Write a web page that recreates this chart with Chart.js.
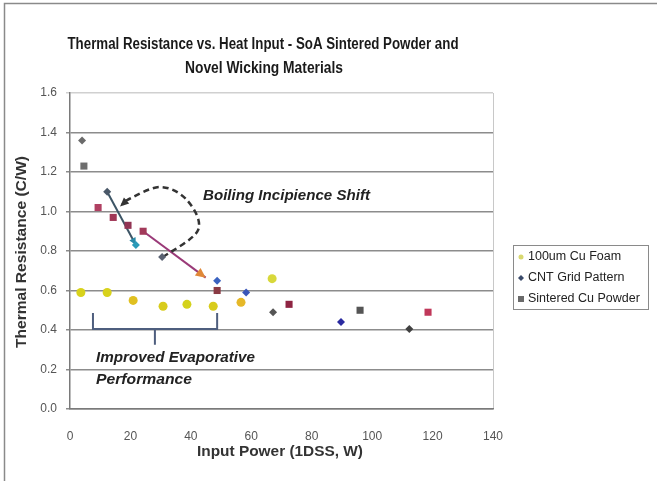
<!DOCTYPE html>
<html><head><meta charset="utf-8">
<script src="https://cdn.jsdelivr.net/npm/chart.js@4"></script>
<style>html,body{margin:0;padding:0;background:#fff;}canvas{display:block;}</style>
</head><body>
<canvas id="c" width="657" height="481"></canvas>
<script>
// ---- data ----
const foamX = [3.6, 12.3, 20.9, 30.8, 38.7, 47.4, 56.6, 66.9];
const foamY = [0.59, 0.59, 0.55, 0.52, 0.53, 0.52, 0.54, 0.66];
const cntX = [4.0, 12.3, 21.8, 30.5, 48.7, 58.3, 67.2, 89.7, 112.3];
const cntY = [1.36, 1.10, 0.83, 0.77, 0.65, 0.59, 0.49, 0.44, 0.405];
const sinterX = [4.6, 9.3, 14.3, 19.2, 24.2, 48.7, 72.5, 96.0, 118.5];
const sinterY = [1.23, 1.02, 0.97, 0.93, 0.90, 0.60, 0.53, 0.50, 0.49];
const seriesNames = ['100um Cu Foam', 'CNT Grid Pattern', 'Sintered Cu Powder'];
const xTicks = [0, 20, 40, 60, 80, 100, 120, 140];
const yTicks = [0.0, 0.2, 0.4, 0.6, 0.8, 1.0, 1.2, 1.4, 1.6];
const titleLines = ['Thermal Resistance vs. Heat Input - SoA Sintered Powder and', 'Novel Wicking Materials'];
const xTitle = 'Input Power (1DSS, W)';
const yTitle = 'Thermal Resistance (C/W)';
const note1 = 'Boiling Incipience Shift';
const note2 = ['Improved Evaporative', 'Performance'];

// styles
const foamColors = ['#d8d21c','#d8d21c','#e0c020','#d8cc1c','#d4d21c','#d8cc1c','#e6b828','#d8d83a'];
const cntColors = ['#6a6a6a','#4a5868','#2a9ab8','#5a6272','#3a62c0','#3a56b8','#555555','#2a2aa0','#404040'];
const sinterColors = ['#6e6e6e','#b04062','#a03656','#923454','#a23a5a','#8a3a44','#8e2442','#555555','#c0385a'];

const toPts = (xs, ys) => xs.map((x, i) => ({x, y: ys[i]}));

const deco = {
  id: 'deco',
  beforeDraw(chart) {
    const ctx = chart.ctx;
    ctx.save();
    ctx.fillStyle = '#fff';
    ctx.fillRect(0, 0, chart.width, chart.height);
    ctx.strokeStyle = '#8a8a8a';
    ctx.lineWidth = 1.5;
    ctx.beginPath();
    ctx.moveTo(4.5, 481); ctx.lineTo(4.5, 3.5); ctx.lineTo(657, 3.5);
    ctx.stroke();
    const a = chart.chartArea;
    ctx.strokeStyle = '#c8c8c8';
    ctx.lineWidth = 1;
    ctx.beginPath();
    ctx.moveTo(a.right + 0.5, a.top); ctx.lineTo(a.right + 0.5, a.bottom);
    ctx.stroke();
    ctx.restore();
  },
  beforeDatasetsDraw(chart) {
    const ctx = chart.ctx, xs = chart.scales.x, ys = chart.scales.y;
    const P = (x, y) => [xs.getPixelForValue(x), ys.getPixelForValue(y)];
    ctx.save();
    const arrow = (p1, p2, col, headCol, hs) => {
      ctx.strokeStyle = col; ctx.lineWidth = 2;
      ctx.beginPath(); ctx.moveTo(p1[0], p1[1]); ctx.lineTo(p2[0], p2[1]); ctx.stroke();
      const ang = Math.atan2(p2[1] - p1[1], p2[0] - p1[0]);
      ctx.fillStyle = headCol;
      ctx.beginPath();
      ctx.moveTo(p2[0], p2[1]);
      ctx.lineTo(p2[0] - hs * Math.cos(ang - 0.45), p2[1] - hs * Math.sin(ang - 0.45));
      ctx.lineTo(p2[0] - hs * Math.cos(ang + 0.45), p2[1] - hs * Math.sin(ang + 0.45));
      ctx.closePath(); ctx.fill();
    };
    arrow(P(12.3, 1.10), P(21.8, 0.83), '#3d5566', '#2a8aa8', 8);
    arrow(P(24.2, 0.90), P(44.9, 0.665), '#9a3a78', '#e08838', 11);

    const pts = [P(30.8, 0.770), P(42.4, 0.906), P(38.7, 1.058), P(29.8, 1.124), P(18.9, 1.058), P(17.3, 1.036)];
    ctx.strokeStyle = '#333'; ctx.lineWidth = 2.5; ctx.setLineDash([6, 4]);
    ctx.beginPath(); ctx.moveTo(pts[0][0], pts[0][1]);
    for (let i = 0; i < pts.length - 1; i++) {
      const p0 = pts[Math.max(0, i - 1)], p1 = pts[i], p2 = pts[i + 1], p3 = pts[Math.min(pts.length - 1, i + 2)];
      ctx.bezierCurveTo(p1[0] + (p2[0] - p0[0]) / 6, p1[1] + (p2[1] - p0[1]) / 6,
                        p2[0] - (p3[0] - p1[0]) / 6, p2[1] - (p3[1] - p1[1]) / 6, p2[0], p2[1]);
    }
    ctx.stroke(); ctx.setLineDash([]);
    const e = pts[pts.length - 1], b = pts[pts.length - 2];
    const ang = Math.atan2(e[1] - b[1], e[0] - b[0]);
    ctx.fillStyle = '#333';
    ctx.beginPath();
    ctx.moveTo(e[0] + 3 * Math.cos(ang), e[1] + 3 * Math.sin(ang));
    ctx.lineTo(e[0] - 7 * Math.cos(ang - 0.6), e[1] - 7 * Math.sin(ang - 0.6));
    ctx.lineTo(e[0] - 7 * Math.cos(ang + 0.6), e[1] - 7 * Math.sin(ang + 0.6));
    ctx.closePath(); ctx.fill();

    const l1 = P(7.6, 0.486), l2 = P(7.6, 0.405), r1 = P(48.7, 0.486), r2 = P(48.7, 0.405), m1 = P(28.1, 0.405), m2 = P(28.1, 0.325);
    ctx.strokeStyle = '#4e5e7e'; ctx.lineWidth = 2;
    ctx.beginPath();
    ctx.moveTo(l1[0], l1[1]); ctx.lineTo(l2[0], l2[1]); ctx.lineTo(r2[0], r2[1]); ctx.lineTo(r1[0], r1[1]);
    ctx.moveTo(m1[0], m1[1]); ctx.lineTo(m2[0], m2[1]);
    ctx.stroke();
    ctx.restore();
  },
  afterDraw(chart) {
    const ctx = chart.ctx;
    ctx.save();
    const fitText = (txt, cx, cy, font, targetW, align, rot) => {
      ctx.font = font;
      const w = ctx.measureText(txt).width;
      const s = targetW ? targetW / w : 1;
      ctx.save();
      ctx.translate(cx, cy);
      if (rot) ctx.rotate(rot);
      ctx.scale(s, 1);
      ctx.textAlign = align || 'center'; ctx.textBaseline = 'middle';
      ctx.fillText(txt, 0, 0);
      ctx.restore();
    };
    ctx.fillStyle = '#1a1a1a';
    fitText(titleLines[0], 263, 45, 'bold 16px "Liberation Sans Narrow", "Liberation Sans", sans-serif', 391);
    fitText(titleLines[1], 264, 69, 'bold 16px "Liberation Sans Narrow", "Liberation Sans", sans-serif', 158);
    ctx.fillStyle = '#333';
    fitText(xTitle, 280, 452, 'bold 14px "Liberation Sans Narrow", "Liberation Sans", sans-serif', 166);
    fitText(yTitle, 22, 252, 'bold 14px "Liberation Sans Narrow", "Liberation Sans", sans-serif', 192, 'center', -Math.PI / 2);
    ctx.fillStyle = '#222';
    fitText(note1, 203, 196, 'italic bold 14px "Liberation Sans", Arial, sans-serif', 167, 'left');
    fitText(note2[0], 96, 358, 'italic bold 14px "Liberation Sans", Arial, sans-serif', 159, 'left');
    fitText(note2[1], 96, 380, 'italic bold 14px "Liberation Sans", Arial, sans-serif', 96, 'left');
    // legend
    ctx.strokeStyle = '#8a8a8a'; ctx.lineWidth = 1;
    ctx.strokeRect(513.5, 245.5, 135, 64);
    ctx.font = '12.5px "Liberation Sans", Arial, sans-serif';
    ctx.textAlign = 'left'; ctx.textBaseline = 'middle';
    const ly = [257, 278, 299];
    const lcol = ['#d8d870', '#3a4a6a', '#6a6a6a'];
    chart.data.datasets.forEach((d, i) => {
      ctx.fillStyle = lcol[i];
      if (i === 0) { ctx.beginPath(); ctx.arc(521, ly[i], 2.5, 0, 2 * Math.PI); ctx.fill(); }
      else if (i === 1) { ctx.beginPath(); ctx.moveTo(521, ly[i] - 3); ctx.lineTo(524, ly[i]); ctx.lineTo(521, ly[i] + 3); ctx.lineTo(518, ly[i]); ctx.closePath(); ctx.fill(); }
      else { ctx.fillRect(518, ly[i] - 3, 6, 6); }
      ctx.fillStyle = '#222';
      ctx.fillText(seriesNames[i], 528, ly[i]);
    });
    ctx.restore();
  }
};

new Chart(document.getElementById('c'), {
  type: 'scatter',
  data: {
    datasets: [
      { label: seriesNames[0], data: toPts(foamX, foamY), pointStyle: 'circle', pointRadius: 4.5,
        backgroundColor: foamColors, borderColor: foamColors, borderWidth: 0 },
      { label: seriesNames[1], data: toPts(cntX, cntY), pointStyle: 'rectRot', pointRadius: 4,
        backgroundColor: cntColors, borderColor: cntColors, borderWidth: 0 },
      { label: seriesNames[2], data: toPts(sinterX, sinterY), pointStyle: 'rect', pointRadius: 5,
        backgroundColor: sinterColors, borderColor: sinterColors, borderWidth: 0 }
    ]
  },
  options: {
    responsive: false, animation: false, devicePixelRatio: 1,
    layout: { padding: { left: 0, right: 164, top: 93, bottom: 0 } },
    plugins: { legend: { display: false }, title: { display: false }, tooltip: { enabled: false } },
    scales: {
      x: {
        type: 'linear', min: 0, max: 140,
        afterFit(s) { s.height = 72; },
        afterBuildTicks(s) { s.ticks = xTicks.map(v => ({ value: v })); },
        grid: { display: false },
        border: { display: true, color: '#7a7a7a', width: 1.5 },
        ticks: { padding: 12, color: '#555', font: { family: '"Liberation Sans", Arial', size: 12 } }
      },
      y: {
        type: 'linear', min: 0, max: 1.6,
        afterFit(s) { s.width = 70; },
        afterBuildTicks(s) { s.ticks = yTicks.map(v => ({ value: v })); },
        grid: {
          drawTicks: true, tickLength: 4, lineWidth: 1.5,
          color: c => (c.tick && c.tick.value >= 1.59) ? '#d0d0d0' : '#8c8c8c'
        },
        border: { display: true, color: '#7a7a7a', width: 1.5 },
        ticks: { padding: 9, color: '#555', font: { family: '"Liberation Sans", Arial', size: 12 },
                 callback: v => Number(v).toFixed(1) }
      }
    }
  },
  plugins: [deco]
});
</script>
</body></html>
